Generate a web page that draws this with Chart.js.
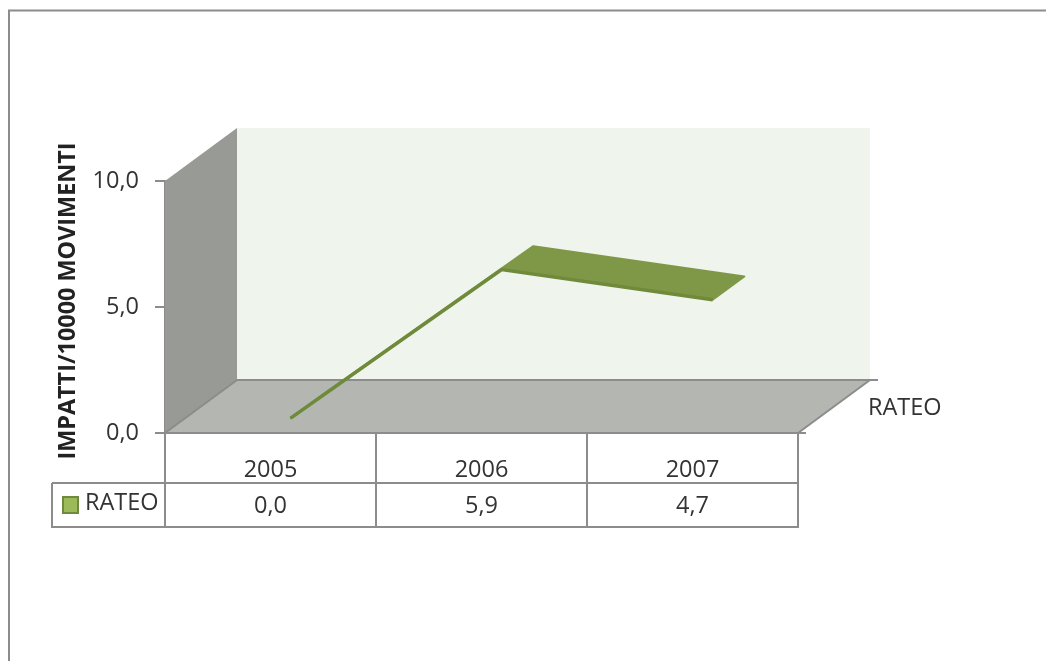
<!DOCTYPE html>
<html><head><meta charset="utf-8">
<style>html,body{margin:0;padding:0;background:#fff;overflow:hidden}canvas{display:block}</style>
<script src="https://cdn.jsdelivr.net/npm/chart.js@4"></script>
</head><body><canvas id="c" width="1046" height="661"></canvas>
<script>
const categories = ['2005', '2006', '2007'];
const seriesName = 'RATEO';
const rateo = [0.0, 5.9, 4.7];
const yTicks = [0, 5, 10];
const yTitle = 'IMPATTI/10000 MOVIMENTI';

const fmt = v => v.toFixed(1).replace('.', ',');
const FONT = '"Open Sans", sans-serif';
const TEXT = '#333333', LINE = '#8c8c8c';
const DEPTH = {x: 72, y: -53};
const NEAR = 0.28, FAR = 0.72;

function poly(ctx, pts, fill) {
  ctx.beginPath();
  pts.forEach((p, i) => i ? ctx.lineTo(p[0], p[1]) : ctx.moveTo(p[0], p[1]));
  ctx.closePath();
  ctx.fillStyle = fill;
  ctx.fill();
}
function seg(ctx, x1, y1, x2, y2) {
  ctx.beginPath(); ctx.moveTo(x1, y1); ctx.lineTo(x2, y2); ctx.stroke();
}

const scene = {
  id: 'scene',
  beforeDatasetsDraw(chart) {
    const {ctx, chartArea: a} = chart;
    const dx = DEPTH.x, dy = DEPTH.y;
    ctx.save();
    // frame of the picture
    ctx.strokeStyle = LINE; ctx.lineWidth = 2;
    seg(ctx, 9, 661, 9, 10); seg(ctx, 8, 10.5, 1046, 10.5);
    // walls
    poly(ctx, [[a.left + dx, a.top + dy], [a.right + dx, a.top + dy], [a.right + dx, a.bottom + dy], [a.left + dx, a.bottom + dy]], '#eff4ec');
    poly(ctx, [[a.left, a.top], [a.left + dx, a.top + dy], [a.left + dx, a.bottom + dy], [a.left, a.bottom]], '#989a95');
    poly(ctx, [[a.left, a.bottom], [a.left + dx, a.bottom + dy], [a.right + dx, a.bottom + dy], [a.right, a.bottom]], '#b4b6b1');
    ctx.strokeStyle = LINE; ctx.lineWidth = 2;
    seg(ctx, a.left + dx, a.bottom + dy, a.right + dx + 8, a.bottom + dy);
    seg(ctx, a.left, a.bottom, a.left + dx, a.bottom + dy);
    seg(ctx, a.right, a.bottom, a.right + dx, a.bottom + dy);
    seg(ctx, a.left, a.bottom, a.right + 8, a.bottom);
    // ribbon top face, from the plotted points
    const pts = chart.getDatasetMeta(0).data;
    const ribbon = [];
    pts.forEach(p => ribbon.push([p.x + dx * NEAR, p.y + dy * NEAR]));
    pts.slice().reverse().forEach(p => ribbon.push([p.x + dx * FAR, p.y + dy * FAR]));
    poly(ctx, ribbon, '#7f9848');
    ctx.strokeStyle = '#7f9848'; ctx.lineWidth = 2; ctx.lineJoin = 'round';
    ctx.stroke();
    ctx.restore();
  },
  beforeDatasetDraw(chart) {
    chart.ctx.save();
    chart.ctx.translate(DEPTH.x * NEAR, DEPTH.y * NEAR);
  },
  afterDatasetDraw(chart) {
    chart.ctx.restore();
  },
  afterDraw(chart) {
    const {ctx, chartArea: a, scales: {x}} = chart;
    ctx.save();
    // data table
    const rowTop = 483, rowBottom = 527, tableLeft = 52;
    ctx.strokeStyle = LINE; ctx.lineWidth = 2;
    seg(ctx, tableLeft, rowTop, a.right, rowTop);
    seg(ctx, tableLeft - 1, rowBottom, a.right + 1, rowBottom);
    seg(ctx, tableLeft, rowTop, tableLeft, rowBottom);
    ctx.fillStyle = TEXT; ctx.textBaseline = 'middle'; ctx.textAlign = 'center';
    ctx.font = '23.5px ' + FONT;
    rateo.forEach((v, i) => ctx.fillText(fmt(v), x.getPixelForValue(i), 506));
    ctx.textAlign = 'left';
    ctx.fillText(seriesName, 85, 503);
    ctx.fillText(seriesName, 868, 408);
    // legend key
    ctx.fillStyle = '#9bbb59'; ctx.fillRect(63, 497, 15, 16);
    ctx.strokeStyle = '#71893f'; ctx.lineWidth = 2; ctx.strokeRect(63, 497, 15, 16);
    // axis title
    ctx.translate(68, 301);
    ctx.rotate(-Math.PI / 2);
    ctx.textAlign = 'center';
    ctx.fillStyle = '#222222';
    ctx.font = 'bold 23.4px ' + FONT;
    ctx.fillText(yTitle, 0, 0);
    ctx.restore();
  }
};

new Chart(document.getElementById('c'), {
  type: 'line',
  plugins: [scene],
  data: {
    labels: categories,
    datasets: [{
      label: seriesName,
      data: rateo,
      borderColor: '#6f8a3a',
      borderWidth: 3.5,
      pointRadius: 0,
      tension: 0,
      clip: false,
      fill: false
    }]
  },
  options: {
    responsive: false,
    animation: false,
    devicePixelRatio: 1,
    layout: {padding: {top: 181, right: 248, left: 0, bottom: 0}},
    plugins: {legend: {display: false}, tooltip: {enabled: false}, title: {display: false}},
    scales: {
      x: {
        type: 'category',
        offset: true,
        afterFit(s) { s.height = 228; },
        border: {display: false},
        grid: {offset: true, drawOnChartArea: false, drawTicks: true, tickLength: 94, color: LINE, lineWidth: 2},
        ticks: {autoSkip: false, maxRotation: 0, minRotation: 0, padding: -71, color: TEXT, font: {family: FONT, size: 23.5}}
      },
      y: {
        min: 0, max: 10,
        afterFit(s) { s.width = 165; },
        afterBuildTicks(s) { s.ticks = yTicks.map(v => ({value: v})); },
        border: {display: true, color: LINE, width: 2},
        grid: {drawOnChartArea: false, drawTicks: true, tickLength: 10, color: LINE, lineWidth: 2},
        ticks: {padding: 16, color: TEXT, font: {family: FONT, size: 23.5}, callback: v => fmt(v)}
      }
    }
  }
});
</script></body></html>
